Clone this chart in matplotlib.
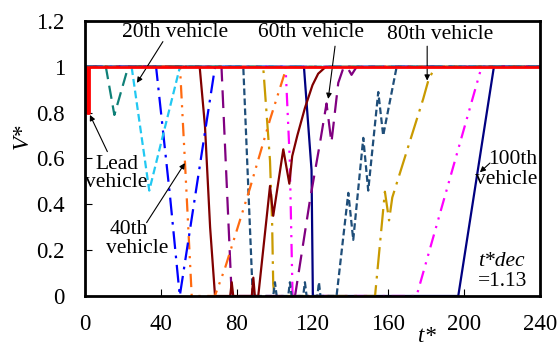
import numpy as np
import matplotlib
matplotlib.use("Agg")
import matplotlib.pyplot as plt

plt.rcParams['font.family'] = ['Liberation Serif', 'DejaVu Serif']
plt.rcParams['font.size'] = 15.5

# lead vehicle
t_lead = [0, 0.8, 0.8, 2.2, 2.2, 240]
v_lead = [1, 1, 0.8, 0.8, 1, 1]

# followers, every 10th vehicle
t10 = [0, 11, 15.5, 22.8, 240]
v10 = [1, 1, 0.79, 1, 1]
t20 = [0, 24.6, 33.9, 50.1, 240]
v20 = [1, 1, 0.46, 1, 1]
t30 = [0, 37.5, 44.8, 50, 58, 68.6, 240]
v30 = [1, 1, 0.44, 0, 0.43, 1, 1]
t40 = [0, 50.1, 52.7, 56.3, 68.5, 73.8, 87, 97.6, 106.4, 240]
v40 = [1, 1, 0.59, 0, 0, 0.12, 0.47, 0.77, 1, 1]
t50 = [0, 60.5, 63.3, 66, 68.6, 76.6, 77.4, 78.2, 88, 88.8, 89.6, 91.4, 97.6, 99.3,
       104.6, 107.8, 109.3, 112, 116, 120, 123, 127, 240]
v50 = [1, 1, 0.74, 0.30, 0, 0, 0.06, 0, 0, 0.08, 0, 0, 0.48, 0.35,
       0.64, 0.49, 0.61, 0.70, 0.82, 0.92, 0.97, 1, 1]
t60 = [0, 72, 77.4, 110.8, 118.7, 124, 127.4, 130, 133.6, 136.5, 138.9, 140.6, 143.3, 240]
v60 = [1, 1, 0, 0, 0.42, 0.67, 0.84, 0.67, 0.93, 1, 0.99, 0.965, 1, 1]
t70 = [0, 83.5, 88.5, 99.3, 100.2, 101.1, 107.2, 108.1, 109, 115.1, 116, 116.9,
       122.6, 123.4, 124.2, 132.7, 138.9, 141.5, 146.8, 149.4, 154.7, 157.3, 164.4, 240]
v70 = [1, 1, 0, 0, 0.06, 0, 0, 0.06, 0, 0, 0.06, 0,
       0, 0.06, 0, 0, 0.45, 0.245, 0.69, 0.46, 0.89, 0.70, 1, 1]
t80 = [0, 94, 97.6, 98.7, 99.3, 100, 153, 158.2, 160.4, 162.1, 178.4, 181.1, 184.6, 240]
v80 = [1, 1, 0.59, 0.32, 0.05, 0, 0, 0.455, 0.33, 0.43, 0.86, 0.94, 1, 1]
t90 = [0, 105.8, 108, 109.5, 174.9, 209.2, 240]
v90 = [1, 1, 0.6, 0, 0, 1, 1]
t100 = [0, 115.5, 119.5, 120.2, 196.9, 215.7, 240]
v100 = [1, 1, 0.55, 0, 0, 1, 1]

series = [
    (t100, v100, '#000080', (None, None)),
    (t90, v90, '#ff00ff', (0, (6, 3, 1, 3, 1, 3))),
    (t80, v80, '#c99a00', (0, (10, 3, 1.2, 3))),
    (t70, v70, '#1f4e79', (0, (3, 1.5))),
    (t60, v60, '#800080', (0, (8, 4))),
    (t50, v50, '#800000', (None, None)),
    (t40, v40, '#ff6a10', (0, (6, 3, 1, 3, 1, 3))),
    (t30, v30, '#0000ff', (0, (8, 3, 1.2, 3))),
    (t20, v20, '#22c8f2', (0, (3.5, 1.8))),
    (t10, v10, '#0f8078', (0, (6, 3))),
]

fig = plt.figure(figsize=(5.58, 3.47), dpi=100)
ax = fig.add_axes([0.1523, 0.147, 0.8154, 0.7925])

for t, v, c, ls in series:
    if ls[0] is None:
        ax.plot(t, v, color=c, lw=1.6, ls='-')
    else:
        ax.plot(t, v, color=c, lw=1.6, ls=ls)
ax.plot(t_lead, v_lead, color='#ff0000', lw=2.0, zorder=5)

ax.set_xlim(0, 240)
ax.set_ylim(0, 1.2)
ax.set_xticks(np.arange(0, 241, 40))
ax.set_yticks([0, 0.2, 0.4, 0.6, 0.8, 1, 1.2])
ax.set_yticklabels(['0', '0.2', '0.4', '0.6', '0.8', '1', '1.2'])
ax.tick_params(axis='both', direction='in', length=5, width=0.8, labelsize=16.5,
               labelfontfamily='Liberation Serif')
ax.tick_params(axis='y', pad=14.5)
ax.tick_params(axis='x', pad=13)
for s in ax.spines.values():
    s.set_linewidth(2)
    s.set_zorder(6)

fig.text(22 / 558, 1 - 136 / 347, 'V*', rotation=90, ha='center', va='center',
         style='italic', fontsize=16.5)
fig.text(427 / 558, 0.0, 't*', ha='center', va='bottom',
         style='italic', fontsize=16.5)

arrow = dict(arrowstyle='-|>', color='black', lw=0.8, mutation_scale=8,
             shrinkA=0, shrinkB=0)

ax.text(47.5, 1.148, '20th vehicle', ha='center', va='center')
ax.annotate('', xy=(27.4, 0.93), xytext=(41.1, 1.11), arrowprops=arrow)
ax.text(119.2, 1.148, '60th vehicle', ha='center', va='center')
ax.annotate('', xy=(128.3, 0.86), xytext=(131.9, 1.09), arrowprops=arrow)
ax.text(187.2, 1.14, '80th vehicle', ha='center', va='center')
ax.annotate('', xy=(180.5, 0.94), xytext=(180.5, 1.09), arrowprops=arrow)

ax.text(16.7, 0.536, 'Lead\nvehicle', ha='center', va='center', linespacing=0.95)
ax.annotate('', xy=(2.6, 0.79), xytext=(11.8, 0.63), arrowprops=arrow)

ax.text(23.2, 0.288, '40th', ha='center', va='center')
ax.text(27.3, 0.208, 'vehicle', ha='center', va='center')
ax.annotate('', xy=(52.7, 0.58), xytext=(32.5, 0.32), arrowprops=arrow)

ax.text(238.4, 0.594, '100th', ha='right', va='center')
ax.text(238.4, 0.507, 'vehicle', ha='right', va='center')
ax.annotate('', xy=(208.3, 0.54), xytext=(213.6, 0.58), arrowprops=arrow)

ax.text(207.3, 0.15, 't*dec', ha='left', va='center', style='italic')
ax.text(207.3, 0.062, '=1.13', ha='left', va='center')

fig.savefig('out.png', dpi=100)
